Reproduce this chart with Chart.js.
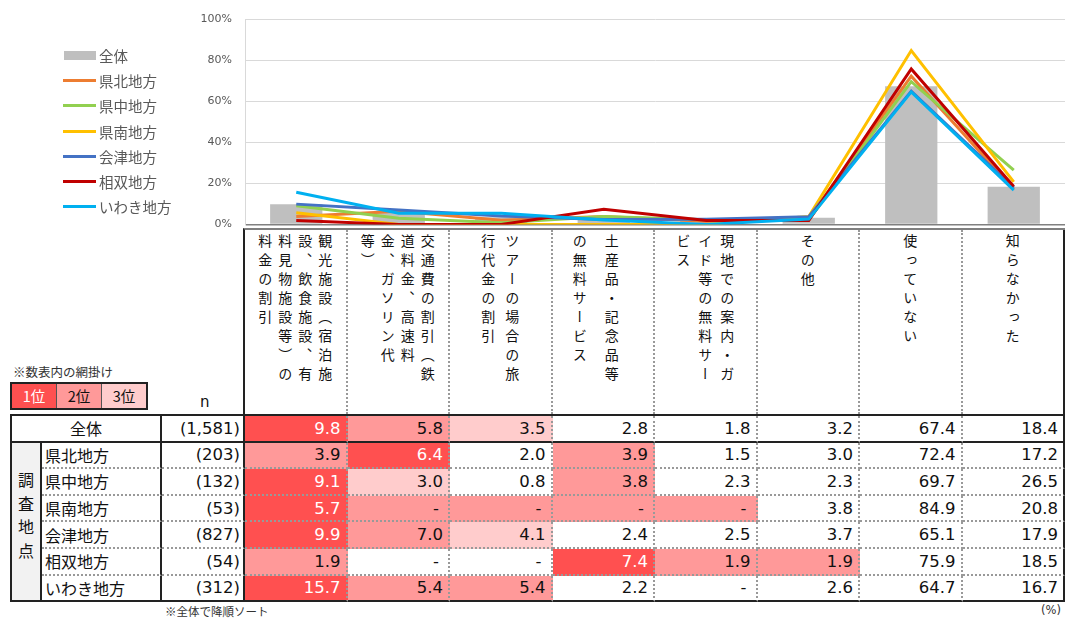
<!DOCTYPE html>
<html lang="ja">
<head>
<meta charset="UTF-8">
<title>割引・サービスの利用状況</title>
<script src="https://cdn.jsdelivr.net/npm/chart.js"></script>
<style>
  body { margin:0; width:1069px; height:621px; position:relative; overflow:hidden; background:#fff;
         font-family:"Noto Sans CJK JP", sans-serif; color:#111; }
  #chartBox { position:absolute; left:0; top:0; }
  #legend { position:absolute; left:63px; top:43px; }
  .lg-item { height:25.2px; display:flex; align-items:center; font-size:14.5px; color:#595959; }
  .lg-mark { width:33px; height:3px; margin-right:3px; }
  .lg-bar { width:32px; height:9px; margin-left:1px; margin-right:3px; }

  #head { position:absolute; left:243px; top:228px; width:822px; height:186px; border-collapse:separate;
          border-spacing:0; table-layout:fixed; border-top:2px solid #7f7f7f; border-left:2px solid #222; background:#fff; }
  #head td { border-right:2px dotted #999; vertical-align:top; text-align:center; padding:0; }
  #head td:last-child { border-right:2px solid #222; }
  .vt { writing-mode:vertical-rl; display:inline-block; font-size:14px; letter-spacing:5px; line-height:20px;
        height:170px; margin-top:4px; white-space:nowrap; text-align:start; color:#111; }
  #head td:nth-child(3) .vt { line-height:24px; }
  #head td:nth-child(4) .vt { line-height:32px; margin-right:14px; }
  #head td:nth-child(5) .vt { line-height:22px; }

  #tbl { position:absolute; left:10px; top:414px; width:1055px; border-collapse:separate; border-spacing:0;
         table-layout:fixed; border-top:2px solid #222; border-left:2px solid #222; }
  #tbl tr { height:26.6px; }
  #tbl td { border-right:2px dotted #999; border-bottom:2px dotted #999; padding:0 5px 0 0; white-space:nowrap; }
  #tbl tr.first td, #tbl tr:last-child td, #tbl td.side { border-bottom:2px solid #222; }
  #tbl td.lab, #tbl td.n, #tbl td.side, #tbl td:last-child { border-right:2px solid #222; }
  #tbl td.lab { font-size:16px; padding-left:3px; }
  #tbl td.lab.center { text-align:center; padding:0; }
  #tbl td.side { background:#f2f2f2; text-align:center; padding:0; }
  .side span { writing-mode:vertical-rl; font-size:16px; letter-spacing:7.5px; display:inline-block; }
  #tbl td.n, #tbl td.v { font-family:"DejaVu Sans", sans-serif; font-size:16.5px; text-align:right; color:#111; }
  #tbl td.n { padding-right:3px; }
  #tbl td.dash { padding-right:9px; }
  .r1 { background:#ff5050; color:#fff !important; }
  .r2 { background:#ff9999; }
  .r3 { background:#ffcccc; }

  #note1 { position:absolute; left:13px; top:362px; font-size:12.5px; color:#333; }
  #rankBox { position:absolute; left:10px; top:382px; display:flex; border:2px solid #222; }
  #rankBox div { width:44px; height:24px; line-height:24px; text-align:center; font-size:14.5px; border-left:1px solid #555; }
  #rankBox div:first-child { border-left:none; }
  #nLabel { position:absolute; left:200px; top:393px; font-family:"DejaVu Sans", sans-serif; font-size:15px; }
  #note2 { position:absolute; left:165px; top:603px; font-size:11.5px; color:#333; }
  #unit { position:absolute; right:8px; top:603px; font-size:11.5px; color:#333; font-family:"DejaVu Sans", sans-serif; }
</style>
</head>
<body>

<div id="chartBox"><canvas id="grafico" width="1069" height="244"></canvas></div>
<div id="legend"></div>

<table id="head"><tr id="headRow"></tr></table>
<table id="tbl"><colgroup id="cols"></colgroup><tbody id="tbody"></tbody></table>

<div id="note1">※数表内の網掛け</div>
<div id="rankBox"><div class="r1">1位</div><div class="r2">2位</div><div class="r3">3位</div></div>
<div id="nLabel">n</div>
<div id="note2">※全体で降順ソート</div>
<div id="unit">(%)</div>

<script>
// 項目（縦書きの改行位置ごと）
const categoryLines = [
  ['観光施設（宿泊施', '設、飲食施設、有', '料見物施設等）の', '料金の割引'],
  ['交通費の割引（鉄', '道料金、高速料', '金、ガソリン代', '等）'],
  ['ツアーの場合の旅', '行代金の割引'],
  ['土産品・記念品等', 'の無料サービス'],
  ['現地での案内・ガ', 'イド等の無料サー', 'ビス'],
  ['その他'],
  ['使っていない'],
  ['知らなかった']
];

const regions = ['県北地方', '県中地方', '県南地方', '会津地方', '相双地方', 'いわき地方'];
const sampleN = ['(1,581)', '(203)', '(132)', '(53)', '(827)', '(54)', '(312)'];

// null = 「-」
const zentai  = [9.8, 5.8, 3.5, 2.8, 1.8, 3.2, 67.4, 18.4];
const kenpoku = [3.9, 6.4, 2.0, 3.9, 1.5, 3.0, 72.4, 17.2];
const kenchu  = [9.1, 3.0, 0.8, 3.8, 2.3, 2.3, 69.7, 26.5];
const kennan  = [5.7, null, null, null, null, 3.8, 84.9, 20.8];
const aizu    = [9.9, 7.0, 4.1, 2.4, 2.5, 3.7, 65.1, 17.9];
const soso    = [1.9, null, null, 7.4, 1.9, 1.9, 75.9, 18.5];
const iwaki   = [15.7, 5.4, 5.4, 2.2, null, 2.6, 64.7, 16.7];

// 網掛けの順位（0 = なし）
const ranks = [
  [1, 2, 3, 0, 0, 0, 0, 0],
  [2, 1, 0, 2, 0, 0, 0, 0],
  [1, 3, 0, 2, 0, 0, 0, 0],
  [1, 2, 2, 2, 2, 0, 0, 0],
  [1, 2, 3, 0, 0, 0, 0, 0],
  [2, 0, 0, 1, 2, 2, 0, 0],
  [1, 2, 2, 0, 0, 0, 0, 0]
];

const seriesRows = [zentai, kenpoku, kenchu, kennan, aizu, soso, iwaki];
const lineColors = ['#ED7D31', '#92D050', '#FFC000', '#4472C4', '#C00000', '#00B0F0'];
const barColor = '#BFBFBF';

// ---- グラフ ----
const lineSets = regions.map((name, i) => ({
  type: 'line',
  label: name,
  data: seriesRows[i + 1].map(v => v === null ? 0 : v),
  borderColor: lineColors[i],
  borderWidth: 3,
  pointRadius: 0,
  tension: 0,
  fill: false,
  order: regions.length - i
}));

new Chart(document.getElementById('grafico').getContext('2d'), {
  type: 'bar',
  data: {
    labels: categoryLines.map(l => l.join('')),
    datasets: [
      { type: 'bar', label: '全体', data: zentai, backgroundColor: barColor,
        barPercentage: 0.51, categoryPercentage: 1, order: 20 },
      ...lineSets
    ]
  },
  options: {
    responsive: false,
    animation: false,
    events: [],
    layout: { padding: { top: 17, right: 4, bottom: 7, left: 0 } },
    plugins: { legend: { display: false }, tooltip: { enabled: false } },
    scales: {
      x: { display: false },
      y: {
        min: 0, max: 100,
        ticks: { stepSize: 20, callback: v => v + '%', color: '#595959',
                 font: { family: 'DejaVu Sans', size: 11 }, padding: 13 },
        grid: {
          color: c => c.tick && c.tick.value === 0 ? '#808080' : '#D9D9D9',
          lineWidth: c => c.tick && c.tick.value === 0 ? 1.5 : 1,
          drawTicks: false
        },
        border: { color: '#D9D9D9' },
        afterFit: s => { s.width = 245; }
      }
    }
  }
});

// ---- 凡例 ----
const legend = document.getElementById('legend');
legend.innerHTML = '<div class="lg-item"><span class="lg-bar" style="background:' + barColor + '"></span>全体</div>' +
  regions.map((r, i) => '<div class="lg-item"><span class="lg-mark" style="background:' + lineColors[i] + '"></span>' + r + '</div>').join('');

// ---- 表見出し ----
document.getElementById('headRow').innerHTML = categoryLines
  .map(lines => '<td><div class="vt">' + lines.join('<br>') + '</div></td>').join('');

// ---- 表本体 ----
let cols = '<col style="width:30px"><col style="width:120px"><col style="width:83px">';
for (let i = 0; i < categoryLines.length; i++) cols += '<col style="width:102.5px">';
document.getElementById('cols').innerHTML = cols;

const rowNames = ['全体', ...regions];
let html = '';
rowNames.forEach((name, r) => {
  let tr = r === 0 ? '<tr class="first">' : '<tr>';
  if (r === 0) {
    tr += '<td class="lab center" colspan="2">' + name + '</td>';
  } else {
    if (r === 1) tr += '<td class="side" rowspan="6"><span>調査地点</span></td>';
    tr += '<td class="lab">' + name + '</td>';
  }
  tr += '<td class="n">' + sampleN[r] + '</td>';
  seriesRows[r].forEach((v, c) => {
    const cls = ['v'];
    if (ranks[r][c]) cls.push('r' + ranks[r][c]);
    if (v === null) cls.push('dash');
    tr += '<td class="' + cls.join(' ') + '">' + (v === null ? '-' : v.toFixed(1)) + '</td>';
  });
  html += tr + '</tr>';
});
document.getElementById('tbody').innerHTML = html;
</script>
</body>
</html>
